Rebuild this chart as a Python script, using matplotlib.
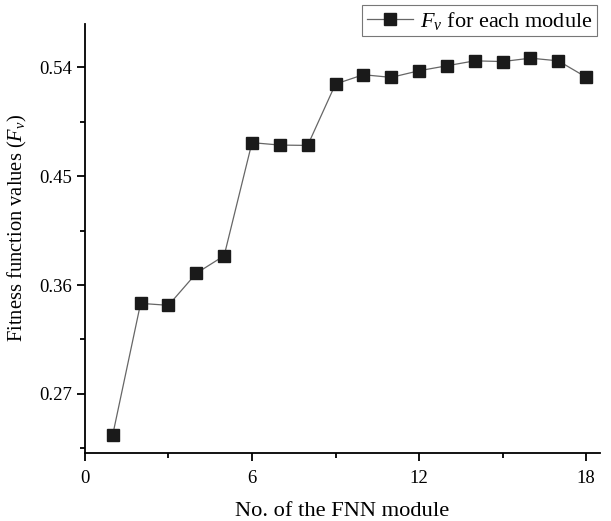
import matplotlib.pyplot as plt
from matplotlib.ticker import MultipleLocator

modules = [1, 2, 3, 4, 5, 6, 7, 8, 9, 10, 11, 12, 13, 14, 15, 16, 17, 18]
fv = [0.2362, 0.3448, 0.3432, 0.3697, 0.3842, 0.4778, 0.4758, 0.4755, 0.5263,
      0.5340, 0.5318, 0.5373, 0.5414, 0.5455, 0.5449, 0.5477, 0.5455, 0.5320]

plt.rcParams['font.family'] = ['Liberation Serif', 'DejaVu Serif']
plt.rcParams['mathtext.fontset'] = 'custom'
plt.rcParams['mathtext.it'] = 'Liberation Serif:italic'
plt.rcParams['mathtext.rm'] = 'Liberation Serif'

fig = plt.figure(figsize=(6.11, 5.21), dpi=100)
ax = fig.add_axes([0.139, 0.1305, 0.843, 0.8235])

ax.plot(modules, fv, color='#666666', linewidth=0.9, marker='s', markersize=8,
        markerfacecolor='#1a1a1a', markeredgecolor='#1a1a1a',
        label='$F_v$ for each module')

ax.set_xlim(0, 18.5)
ax.set_ylim(0.221, 0.576)
ax.xaxis.set_major_locator(MultipleLocator(6))
ax.xaxis.set_minor_locator(MultipleLocator(3))
ax.yaxis.set_minor_locator(MultipleLocator(0.045))
ax.set_yticks([0.27, 0.36, 0.45, 0.54])
ax.set_yticklabels(['0.27', '0.36', '0.45', '0.54'])

for s in ['top', 'right']:
    ax.spines[s].set_visible(False)
for s in ['left', 'bottom']:
    ax.spines[s].set_linewidth(1.3)

ax.tick_params(which='major', direction='out', length=6, width=1.3, labelsize=13.5)
ax.tick_params(which='minor', direction='out', length=3.5, width=1.3)
ax.tick_params(axis='x', pad=6)

ax.set_xlabel('No. of the FNN module', fontsize=16.2, labelpad=11)
ax.set_ylabel('Fitness function values ($F_v$)', fontsize=14.8)
ax.yaxis.set_label_coords(-0.108, 0.524)

leg = ax.legend(loc='upper right', bbox_to_anchor=(0.994, 1.044), borderaxespad=0,
                fontsize=16, fancybox=False, edgecolor='#777777', framealpha=1,
                handlelength=2.1, handletextpad=0.3, borderpad=0.2)
leg.get_frame().set_linewidth(0.8)

fig.savefig('out.png', dpi=100)
